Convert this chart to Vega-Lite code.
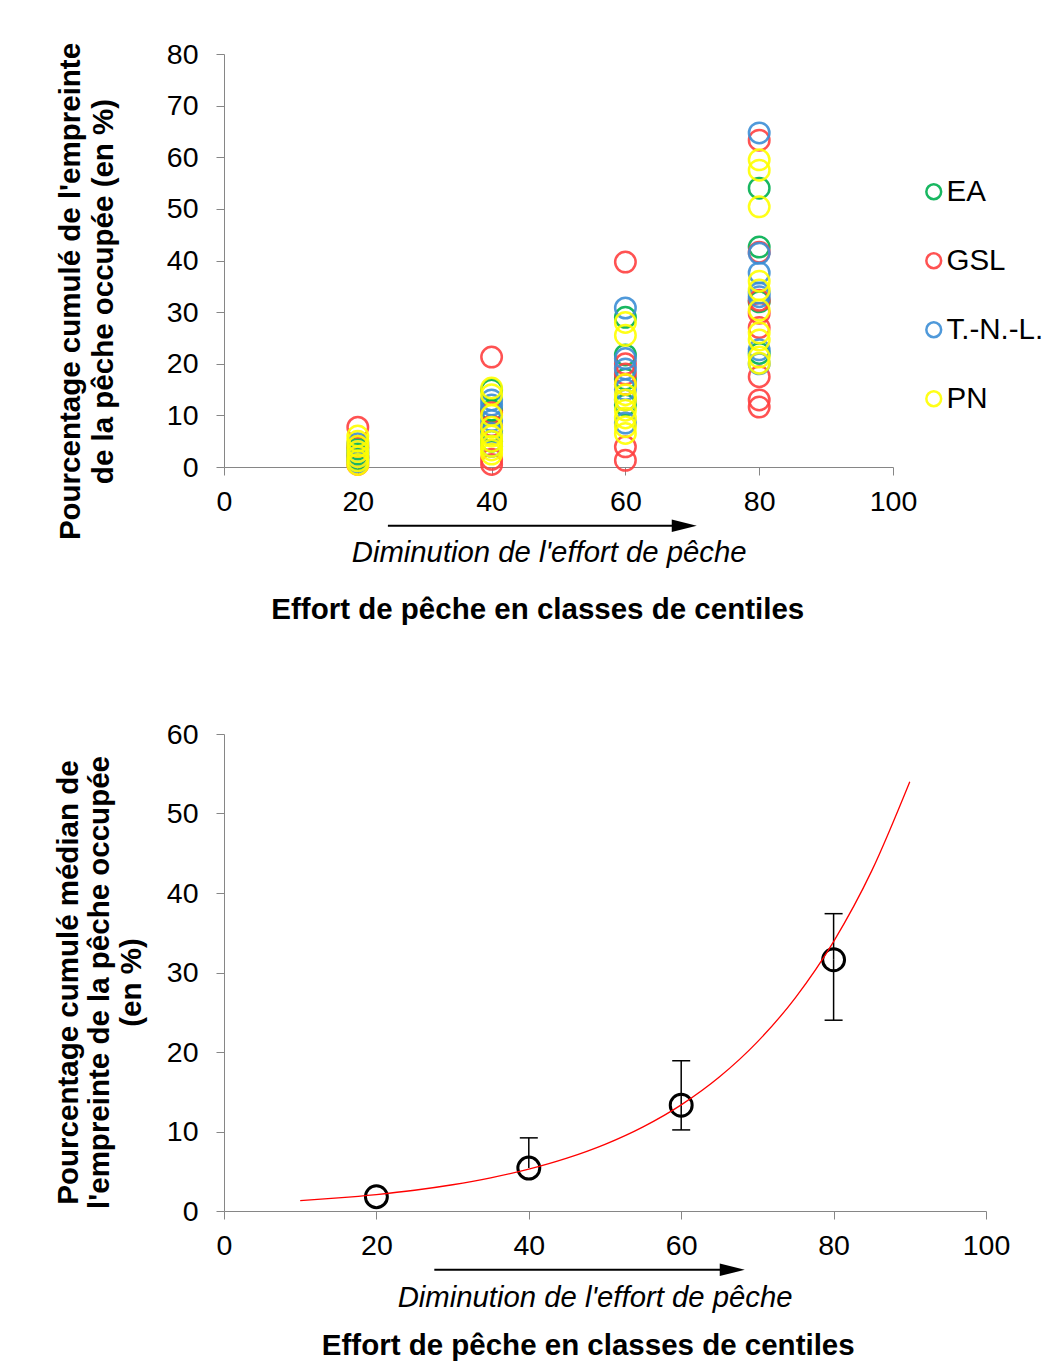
{
  "$schema": "https://vega.github.io/schema/vega-lite/v6.json",
  "padding": {"left": 52, "top": 40, "right": 5, "bottom": 2},
  "background": "white",
  "spacing": 267,
  "bounds": "flush",
  "config": {
    "view": {"stroke": null},
    "font": "Liberation Sans",
    "axis": {
      "domainColor": "#868686",
      "tickColor": "#868686",
      "tickSize": 8,
      "grid": false,
      "labelFlush": false,
      "labelFont": "Liberation Sans",
      "labelFontSize": 28.5,
      "labelColor": "#000000",
      "titleFont": "Liberation Sans",
      "titleFontSize": 29.5,
      "titleFontWeight": "bold",
      "titleColor": "#000000"
    }
  },
  "datasets": {
    "scatter": [
      {"effort": 20, "pct": 1.5, "zone": "EA"},
      {"effort": 20, "pct": 3.5, "zone": "EA"},
      {"effort": 20, "pct": 2.5, "zone": "EA"},
      {"effort": 40, "pct": 14.9, "zone": "EA"},
      {"effort": 40, "pct": 11, "zone": "EA"},
      {"effort": 40, "pct": 7, "zone": "EA"},
      {"effort": 40, "pct": 5, "zone": "EA"},
      {"effort": 60, "pct": 29, "zone": "EA"},
      {"effort": 60, "pct": 21.7, "zone": "EA"},
      {"effort": 60, "pct": 17, "zone": "EA"},
      {"effort": 60, "pct": 12, "zone": "EA"},
      {"effort": 80, "pct": 54, "zone": "EA"},
      {"effort": 80, "pct": 42.6, "zone": "EA"},
      {"effort": 80, "pct": 32, "zone": "EA"},
      {"effort": 80, "pct": 22, "zone": "EA"},
      {"effort": 20, "pct": 7.7, "zone": "GSL"},
      {"effort": 20, "pct": 4, "zone": "GSL"},
      {"effort": 20, "pct": 2, "zone": "GSL"},
      {"effort": 20, "pct": 0.5, "zone": "GSL"},
      {"effort": 40, "pct": 21.3, "zone": "GSL"},
      {"effort": 40, "pct": 10.5, "zone": "GSL"},
      {"effort": 40, "pct": 8, "zone": "GSL"},
      {"effort": 40, "pct": 1.5, "zone": "GSL"},
      {"effort": 40, "pct": 0.5, "zone": "GSL"},
      {"effort": 60, "pct": 39.7, "zone": "GSL"},
      {"effort": 60, "pct": 20, "zone": "GSL"},
      {"effort": 60, "pct": 18, "zone": "GSL"},
      {"effort": 60, "pct": 16, "zone": "GSL"},
      {"effort": 60, "pct": 3.9, "zone": "GSL"},
      {"effort": 60, "pct": 1.3, "zone": "GSL"},
      {"effort": 80, "pct": 63.3, "zone": "GSL"},
      {"effort": 80, "pct": 41.6, "zone": "GSL"},
      {"effort": 80, "pct": 32.3, "zone": "GSL"},
      {"effort": 80, "pct": 29.8, "zone": "GSL"},
      {"effort": 80, "pct": 27, "zone": "GSL"},
      {"effort": 80, "pct": 17.5, "zone": "GSL"},
      {"effort": 80, "pct": 13, "zone": "GSL"},
      {"effort": 80, "pct": 11.6, "zone": "GSL"},
      {"effort": 20, "pct": 4.5, "zone": "T.-N.-L."},
      {"effort": 20, "pct": 3, "zone": "T.-N.-L."},
      {"effort": 20, "pct": 2, "zone": "T.-N.-L."},
      {"effort": 20, "pct": 1, "zone": "T.-N.-L."},
      {"effort": 40, "pct": 13, "zone": "T.-N.-L."},
      {"effort": 40, "pct": 12, "zone": "T.-N.-L."},
      {"effort": 40, "pct": 9, "zone": "T.-N.-L."},
      {"effort": 40, "pct": 6.5, "zone": "T.-N.-L."},
      {"effort": 40, "pct": 4, "zone": "T.-N.-L."},
      {"effort": 60, "pct": 30.8, "zone": "T.-N.-L."},
      {"effort": 60, "pct": 21, "zone": "T.-N.-L."},
      {"effort": 60, "pct": 19, "zone": "T.-N.-L."},
      {"effort": 60, "pct": 15, "zone": "T.-N.-L."},
      {"effort": 60, "pct": 13, "zone": "T.-N.-L."},
      {"effort": 60, "pct": 8.5, "zone": "T.-N.-L."},
      {"effort": 80, "pct": 64.7, "zone": "T.-N.-L."},
      {"effort": 80, "pct": 41.4, "zone": "T.-N.-L."},
      {"effort": 80, "pct": 37.6, "zone": "T.-N.-L."},
      {"effort": 80, "pct": 33.7, "zone": "T.-N.-L."},
      {"effort": 80, "pct": 33, "zone": "T.-N.-L."},
      {"effort": 80, "pct": 22.7, "zone": "T.-N.-L."},
      {"effort": 80, "pct": 20, "zone": "T.-N.-L."},
      {"effort": 20, "pct": 6, "zone": "PN"},
      {"effort": 20, "pct": 5, "zone": "PN"},
      {"effort": 20, "pct": 4, "zone": "PN"},
      {"effort": 20, "pct": 3, "zone": "PN"},
      {"effort": 20, "pct": 2, "zone": "PN"},
      {"effort": 20, "pct": 1.2, "zone": "PN"},
      {"effort": 20, "pct": 0.5, "zone": "PN"},
      {"effort": 40, "pct": 15.3, "zone": "PN"},
      {"effort": 40, "pct": 14, "zone": "PN"},
      {"effort": 40, "pct": 10, "zone": "PN"},
      {"effort": 40, "pct": 7.7, "zone": "PN"},
      {"effort": 40, "pct": 6, "zone": "PN"},
      {"effort": 40, "pct": 5, "zone": "PN"},
      {"effort": 40, "pct": 4, "zone": "PN"},
      {"effort": 40, "pct": 3.3, "zone": "PN"},
      {"effort": 40, "pct": 2.5, "zone": "PN"},
      {"effort": 60, "pct": 28, "zone": "PN"},
      {"effort": 60, "pct": 25.5, "zone": "PN"},
      {"effort": 60, "pct": 16, "zone": "PN"},
      {"effort": 60, "pct": 14, "zone": "PN"},
      {"effort": 60, "pct": 13, "zone": "PN"},
      {"effort": 60, "pct": 11, "zone": "PN"},
      {"effort": 60, "pct": 9.5, "zone": "PN"},
      {"effort": 60, "pct": 7.8, "zone": "PN"},
      {"effort": 60, "pct": 6.5, "zone": "PN"},
      {"effort": 80, "pct": 59.5, "zone": "PN"},
      {"effort": 80, "pct": 57.5, "zone": "PN"},
      {"effort": 80, "pct": 50.4, "zone": "PN"},
      {"effort": 80, "pct": 36, "zone": "PN"},
      {"effort": 80, "pct": 34.3, "zone": "PN"},
      {"effort": 80, "pct": 30.4, "zone": "PN"},
      {"effort": 80, "pct": 26, "zone": "PN"},
      {"effort": 80, "pct": 24.6, "zone": "PN"},
      {"effort": 80, "pct": 21.3, "zone": "PN"},
      {"effort": 80, "pct": 20.1, "zone": "PN"}
    ],
    "medians": [
      {"effort": 20, "median": 1.8, "low": null, "high": null},
      {"effort": 40, "median": 5.4, "low": null, "high": 9.2},
      {"effort": 60, "median": 13.3, "low": 10.2, "high": 18.9},
      {"effort": 80, "median": 31.6, "low": 24.0, "high": 37.4}
    ],
    "trend": [
      {"effort": 10, "fit": 1.30},
      {"effort": 15, "fit": 1.64},
      {"effort": 20, "fit": 2.07},
      {"effort": 25, "fit": 2.61},
      {"effort": 30, "fit": 3.30},
      {"effort": 35, "fit": 4.17},
      {"effort": 40, "fit": 5.26},
      {"effort": 45, "fit": 6.64},
      {"effort": 50, "fit": 8.38},
      {"effort": 55, "fit": 10.58},
      {"effort": 60, "fit": 13.35},
      {"effort": 65, "fit": 16.85},
      {"effort": 70, "fit": 21.27},
      {"effort": 75, "fit": 26.85},
      {"effort": 80, "fit": 33.89},
      {"effort": 85, "fit": 42.78},
      {"effort": 90, "fit": 54.0}
    ]
  },
  "vconcat": [
    {
      "width": 669,
      "height": 413,
      "layer": [
        {
          "data": {"name": "scatter"},
          "mark": {"type": "point", "filled": false, "size": 420, "strokeWidth": 2.5, "opacity": 0.9, "clip": false},
          "encoding": {
            "x": {"field": "effort", "type": "quantitative",
              "scale": {"domain": [0, 100], "nice": false, "zero": false},
              "axis": {"values": [0, 20, 40, 60, 80, 100], "title": null, "labelPadding": 12}},
            "y": {"field": "pct", "type": "quantitative",
              "scale": {"domain": [0, 80], "nice": false, "zero": false},
              "axis": {"values": [0, 10, 20, 30, 40, 50, 60, 70, 80], "labelPadding": 18,
                "title": ["Pourcentage cumulé de l'empreinte", "de la pêche occupée (en %)"],
                "titleX": -154, "titleY": 237, "titleAngle": -90, "titleAlign": "center", "titleBaseline": "middle", "titleLineHeight": 33}},
            "color": {"field": "zone", "type": "nominal",
              "scale": {"domain": ["EA", "GSL", "T.-N.-L.", "PN"], "range": ["#00B050", "#FF4040", "#3D8FD6", "#FFFF00"]},
              "legend": {"title": null, "orient": "none", "legendX": 695, "legendY": 123, "padding": 0,
                "symbolType": "circle", "symbolSize": 220, "symbolStrokeWidth": 2.5, "symbolFillColor": "transparent",
                "labelFontSize": 29.5, "labelFont": "Liberation Sans", "labelColor": "#000000", "labelOffset": -2, "rowPadding": 38}}
          }
        },
        {
          "data": {"values": [{}]},
          "mark": {"type": "rule", "color": "#000000", "strokeWidth": 2, "clip": false},
          "encoding": {
            "x": {"datum": 24.5, "type": "quantitative"},
            "x2": {"datum": 68},
            "y": {"datum": -11.4, "type": "quantitative"}
          }
        },
        {
          "data": {"values": [{}]},
          "mark": {"type": "point", "shape": "M-1,-0.5L1,0L-1,0.5Z", "filled": true, "color": "#000000", "size": 625, "opacity": 1, "clip": false},
          "encoding": {
            "x": {"datum": 68.8, "type": "quantitative"},
            "y": {"datum": -11.4, "type": "quantitative"}
          }
        },
        {
          "data": {"values": [{}]},
          "mark": {"type": "text", "text": "Diminution de l'effort de pêche", "font": "Liberation Sans", "fontSize": 29.3, "fontStyle": "italic", "color": "#000000", "align": "center", "baseline": "middle", "clip": false},
          "encoding": {
            "x": {"datum": 48.6, "type": "quantitative"},
            "y": {"datum": -16.7, "type": "quantitative"}
          }
        },
        {
          "data": {"values": [{}]},
          "mark": {"type": "text", "text": "Effort de pêche en classes de centiles", "font": "Liberation Sans", "fontSize": 29.5, "fontWeight": "bold", "color": "#000000", "align": "center", "baseline": "middle", "clip": false},
          "encoding": {
            "x": {"datum": 46.9, "type": "quantitative"},
            "y": {"datum": -27.7, "type": "quantitative"}
          }
        }
      ]
    },
    {
      "width": 762,
      "height": 477,
      "layer": [
        {
          "data": {"name": "medians"},
          "transform": [{"filter": "datum.high != null"}],
          "mark": {"type": "rule", "color": "#000000", "strokeWidth": 1.5, "clip": false},
          "encoding": {
            "x": {"field": "effort", "type": "quantitative",
              "scale": {"domain": [0, 100], "nice": false, "zero": false},
              "axis": {"values": [0, 20, 40, 60, 80, 100], "title": null, "labelPadding": 12}},
            "y": {"field": "median", "type": "quantitative",
              "scale": {"domain": [0, 60], "nice": false, "zero": false},
              "axis": {"values": [0, 10, 20, 30, 40, 50, 60], "labelPadding": 18,
                "title": ["Pourcentage cumulé médian de", "l'empreinte de la pêche occupée", "(en %)"],
                "titleX": -156, "titleY": 248, "titleAngle": -90, "titleAlign": "center", "titleBaseline": "middle", "titleLineHeight": 31.5}},
            "y2": {"field": "high"}
          }
        },
        {
          "data": {"name": "medians"},
          "transform": [{"filter": "datum.low != null"}],
          "mark": {"type": "rule", "color": "#000000", "strokeWidth": 1.5, "clip": false},
          "encoding": {
            "x": {"field": "effort", "type": "quantitative"},
            "y": {"field": "median", "type": "quantitative"},
            "y2": {"field": "low"}
          }
        },
        {
          "data": {"name": "medians"},
          "transform": [{"filter": "datum.high != null"}],
          "mark": {"type": "point", "shape": "M-1,0L1,0", "filled": false, "color": "#000000", "strokeWidth": 1.5, "size": 324, "opacity": 1, "clip": false},
          "encoding": {
            "x": {"field": "effort", "type": "quantitative"},
            "y": {"field": "high", "type": "quantitative"}
          }
        },
        {
          "data": {"name": "medians"},
          "transform": [{"filter": "datum.low != null"}],
          "mark": {"type": "point", "shape": "M-1,0L1,0", "filled": false, "color": "#000000", "strokeWidth": 1.5, "size": 324, "opacity": 1, "clip": false},
          "encoding": {
            "x": {"field": "effort", "type": "quantitative"},
            "y": {"field": "low", "type": "quantitative"}
          }
        },
        {
          "data": {"name": "medians"},
          "mark": {"type": "point", "filled": false, "color": "#000000", "strokeWidth": 3, "size": 480, "opacity": 1, "clip": false},
          "encoding": {
            "x": {"field": "effort", "type": "quantitative"},
            "y": {"field": "median", "type": "quantitative"}
          }
        },
        {
          "data": {"name": "trend"},
          "mark": {"type": "line", "color": "#FF0000", "strokeWidth": 1.3, "interpolate": "monotone", "clip": false},
          "encoding": {
            "x": {"field": "effort", "type": "quantitative"},
            "y": {"field": "fit", "type": "quantitative"}
          }
        },
        {
          "data": {"values": [{}]},
          "mark": {"type": "rule", "color": "#000000", "strokeWidth": 2, "clip": false},
          "encoding": {
            "x": {"datum": 27.6, "type": "quantitative"},
            "x2": {"datum": 65.5},
            "y": {"datum": -7.4, "type": "quantitative"}
          }
        },
        {
          "data": {"values": [{}]},
          "mark": {"type": "point", "shape": "M-1,-0.5L1,0L-1,0.5Z", "filled": true, "color": "#000000", "size": 625, "opacity": 1, "clip": false},
          "encoding": {
            "x": {"datum": 66.7, "type": "quantitative"},
            "y": {"datum": -7.4, "type": "quantitative"}
          }
        },
        {
          "data": {"values": [{}]},
          "mark": {"type": "text", "text": "Diminution de l'effort de pêche", "font": "Liberation Sans", "fontSize": 29.3, "fontStyle": "italic", "color": "#000000", "align": "center", "baseline": "middle", "clip": false},
          "encoding": {
            "x": {"datum": 48.7, "type": "quantitative"},
            "y": {"datum": -10.9, "type": "quantitative"}
          }
        },
        {
          "data": {"values": [{}]},
          "mark": {"type": "text", "text": "Effort de pêche en classes de centiles", "font": "Liberation Sans", "fontSize": 29.5, "fontWeight": "bold", "color": "#000000", "align": "center", "baseline": "middle", "clip": false},
          "encoding": {
            "x": {"datum": 47.8, "type": "quantitative"},
            "y": {"datum": -17.0, "type": "quantitative"}
          }
        }
      ]
    }
  ]
}
